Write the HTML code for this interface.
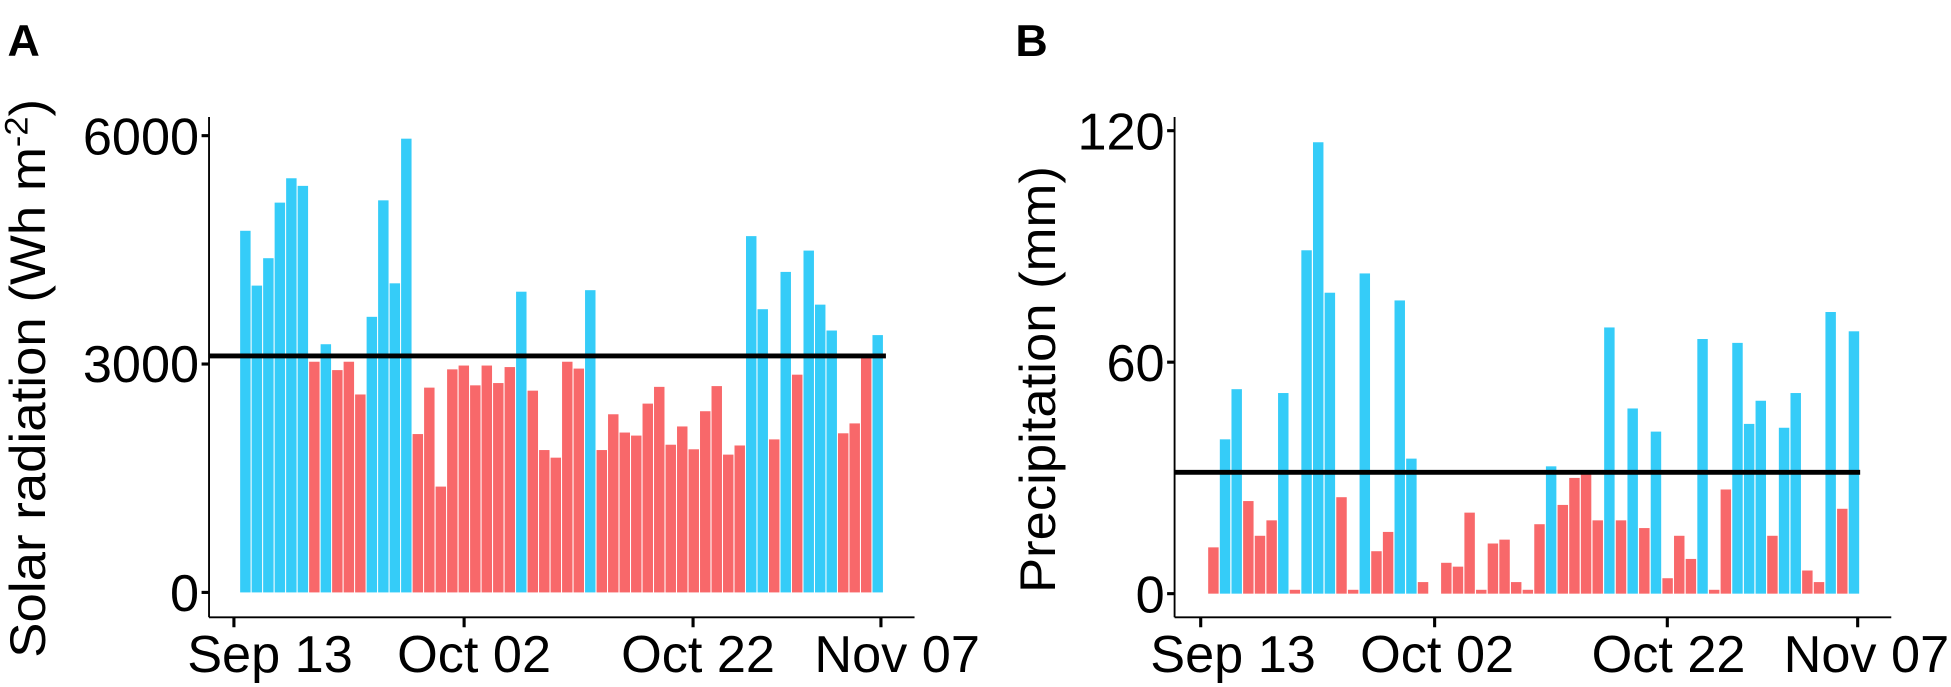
<!DOCTYPE html>
<html><head><meta charset="utf-8"><style>
html,body{margin:0;padding:0;background:#fff;}
svg{display:block;}
text{font-family:"Liberation Sans",Arial,sans-serif;fill:#000;}
</style></head><body>
<svg id="s" width="1951" height="687" viewBox="0 0 1568 552" preserveAspectRatio="none" xmlns="http://www.w3.org/2000/svg">
<g id="ga"></g><g id="gb"></g>
<!-- Panel A axes -->
<line x1="168" y1="94" x2="168" y2="496" stroke="#000" stroke-width="1.5"/>
<line x1="168" y1="496" x2="735" y2="496" stroke="#000" stroke-width="1.5"/>
<line x1="162" y1="476" x2="168" y2="476" stroke="#000" stroke-width="2.5"/>
<line x1="162" y1="292.5" x2="168" y2="292.5" stroke="#000" stroke-width="2.5"/>
<line x1="162" y1="109" x2="168" y2="109" stroke="#000" stroke-width="2.5"/>
<g stroke="#000" stroke-width="2.5">
<line x1="188" y1="496" x2="188" y2="504"/><line x1="373" y1="496" x2="373" y2="504"/>
<line x1="557" y1="496" x2="557" y2="504"/><line x1="708" y1="496" x2="708" y2="504"/>
</g>
<g font-size="42" text-anchor="end">
<text x="160" y="491">0</text><text x="160" y="307">3000</text><text x="160" y="124">6000</text>
</g>
<g font-size="42" text-anchor="middle">
<text x="217" y="540">Sep 13</text><text x="381" y="540">Oct 02</text>
<text x="561" y="540">Oct 22</text><text x="721" y="540">Nov 07</text>
</g>
<text transform="translate(36,304) rotate(-90)" font-size="40" text-anchor="middle" textLength="449" lengthAdjust="spacingAndGlyphs">Solar radiation (Wh m<tspan font-size="26" dy="-14">-2</tspan><tspan dy="14">)</tspan></text>
<text x="6" y="45" font-size="36" font-weight="bold">A</text>
<line x1="168" y1="286" x2="712" y2="286" stroke="#000" stroke-width="4"/>
<!-- Panel B axes -->
<line x1="944" y1="94" x2="944" y2="496" stroke="#000" stroke-width="1.5"/>
<line x1="944" y1="496" x2="1520" y2="496" stroke="#000" stroke-width="1.5"/>
<line x1="938" y1="477" x2="944" y2="477" stroke="#000" stroke-width="2.5"/>
<line x1="938" y1="291" x2="944" y2="291" stroke="#000" stroke-width="2.5"/>
<line x1="938" y1="105" x2="944" y2="105" stroke="#000" stroke-width="2.5"/>
<g stroke="#000" stroke-width="2.5">
<line x1="965" y1="496" x2="965" y2="504"/><line x1="1153" y1="496" x2="1153" y2="504"/>
<line x1="1340" y1="496" x2="1340" y2="504"/><line x1="1493" y1="496" x2="1493" y2="504"/>
</g>
<g font-size="42" text-anchor="end">
<text x="936" y="492">0</text><text x="936" y="306">60</text><text x="936" y="120">120</text>
</g>
<g font-size="42" text-anchor="middle">
<text x="991" y="540">Sep 13</text><text x="1155" y="540">Oct 02</text>
<text x="1341" y="540">Oct 22</text><text x="1500" y="540">Nov 07</text>
</g>
<text transform="translate(848,305) rotate(-90)" font-size="40" text-anchor="middle" textLength="343" lengthAdjust="spacingAndGlyphs">Precipitation (mm)</text>
<text x="816" y="45" font-size="36" font-weight="bold">B</text>
<line x1="944" y1="379.5" x2="1495" y2="379.5" stroke="#000" stroke-width="4"/>
</svg>
<script>
var B="#35CCF8",R="#F8686A",NS="http://www.w3.org/2000/svg";
var a=[[4750,B],[4030,B],[4390,B],[5120,B],[5440,B],[5340,B],[3030,R],[3260,B],[2920,R],[3030,R],[2600,R],[3620,B],[5150,B],[4060,B],[5960,B],[2080,R],[2690,R],[1390,R],[2930,R],[2980,R],[2720,R],[2980,R],[2750,R],[2960,R],[3950,B],[2650,R],[1870,R],[1770,R],[3030,R],[2940,R],[3970,B],[1870,R],[2340,R],[2100,R],[2060,R],[2480,R],[2700,R],[1940,R],[2180,R],[1880,R],[2380,R],[2710,R],[1810,R],[1930,R],[4680,B],[3720,B],[2010,R],[4210,B],[2860,R],[4490,B],[3780,B],[3440,B],[2090,R],[2220,R],[3080,R],[3380,B]];
var bv=[12,40,53,24,15,19,52,1,89,117,78,25,1,83,11,16,76,35,3,0,8,7,21,1,13,14,3,1,18,33,23,30,31,19,69,19,48,17,42,4,15,9,66,1,27,65,44,50,15,43,52,6,3,73,22,68];
var bc="rbbrrrbrbbbrrbrrbbrrrrrrrrrrrbrrrrbrbrbrrrbrrbbbrbbrrbrb";
function rect(g,x,y,w,h,c){var r=document.createElementNS(NS,"rect");r.setAttribute("x",x);r.setAttribute("y",y);r.setAttribute("width",w);r.setAttribute("height",h);r.setAttribute("fill",c);document.getElementById(g).appendChild(r);}
a.forEach(function(d,i){var h=d[0]*0.06117;rect("ga",193+i*9.24,476-h,8.4,h,d[1]);});
bv.forEach(function(v,i){var h=v*3.1;if(h<0.8&&v>0)h=0.8;rect("gb",971+i*9.36,477-h,8.4,h,bc[i]=="b"?B:R);});
</script>
</body></html>
